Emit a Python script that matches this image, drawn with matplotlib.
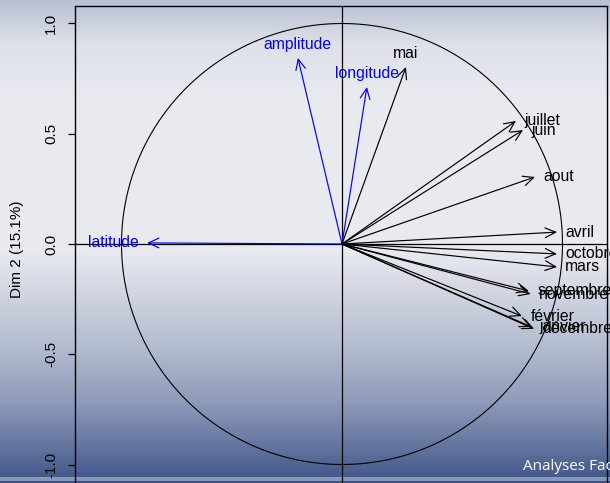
import numpy as np
import matplotlib
matplotlib.use("Agg")
import matplotlib.pyplot as plt
from matplotlib.colors import LinearSegmentedColormap

# ---- data ----
var_names = ["latitude", "amplitude", "longitude", "mai", "juillet", "juin", "aout",
             "avril", "octobre", "mars", "septembre", "novembre", "février",
             "janvier", "décembre"]
dim1 = [-0.884, -0.200, 0.113, 0.290, 0.789, 0.821, 0.875,
        0.975, 0.975, 0.975, 0.847, 0.856, 0.816, 0.859, 0.871]
dim2 = [0.005, 0.844, 0.712, 0.803, 0.558, 0.517, 0.304,
        0.054, -0.045, -0.104, -0.213, -0.227, -0.327, -0.376, -0.385]
supplementary = [True, True, True, False, False, False, False,
                 False, False, False, False, False, False, False, False]
y_ticks = [-1.0, -0.5, 0.0, 0.5, 1.0]
y_label = "Dim 2 (15.1%)"
footer = "Analyses Factorielles"

W, H = 610, 483
fig = plt.figure(figsize=(W / 100, H / 100), dpi=100)

# background gradient (slide)
bg = fig.add_axes([0, 0, 1, 1], zorder=-10)
stops = [(0.00, "#b8c0d1"), (0.09, "#dee1e9"), (0.20, "#e9eaf0"), (0.52, "#e9eaf0"),
         (0.60, "#d3d7e2"), (0.72, "#b3bbcf"), (0.83, "#8f9cba"), (0.92, "#6677a0"),
         (0.990, "#44598b"), (0.992, "#8a98b9"), (0.996, "#8a98b9"),
         (0.998, "#3e5284"), (1.0, "#3e5284")]
cmap = LinearSegmentedColormap.from_list("bg", stops)
grad = np.linspace(0, 1, 2000).reshape(-1, 1)
bg.imshow(grad, aspect="auto", cmap=cmap, extent=[0, 1, 0, 1], origin="upper",
          interpolation="nearest")
bg.set_axis_off()

# main axes positioned in pixels
x_left_px, x_right_px = 75, 607
scale = 220.5
cx, cy = 342, 244
xmin = (x_left_px - cx) / scale
xmax = (x_right_px - cx) / scale
top_px, bot_px = 6, 492
ymax = (cy - top_px) / scale
ymin = (cy - bot_px) / scale
ax = fig.add_axes([x_left_px / W, (H - bot_px) / H,
                   (x_right_px - x_left_px) / W, (bot_px - top_px) / H])
ax.patch.set_alpha(0)
ax.set_xlim(xmin, xmax)
ax.set_ylim(ymin, ymax)
for s in ax.spines.values():
    s.set_linewidth(1.0)
    s.set_color("black")

t = np.linspace(0, 2 * np.pi, 400)
ax.plot(np.cos(t), np.sin(t), color="black", lw=0.8)
ax.axhline(0, color="black", lw=0.9)
ax.axvline(0, color="black", lw=0.9)

for name, x, y, sup in zip(var_names, dim1, dim2, supplementary):
    col = "blue" if sup else "black"
    ax.annotate("", xy=(x, y), xytext=(0, 0),
                arrowprops=dict(arrowstyle="->,head_length=0.75,head_width=0.35",
                                mutation_scale=10, color=col, lw=0.85,
                                shrinkA=0, shrinkB=0))
    if abs(x) > abs(y):
        if x > 0:
            off, ha, va = (6, 0), "left", "center"
        else:
            off, ha, va = (-6, 0), "right", "center"
    else:
        if y > 0:
            off, ha, va = (0, 4), "center", "bottom"
        else:
            off, ha, va = (0, -4), "center", "top"
    ax.annotate(name, xy=(x, y), xytext=off, textcoords="offset points",
                ha=ha, va=va, color=col, fontsize=11.3, family="Liberation Sans",
                annotation_clip=False, clip_on=False)

ax.set_xticks([])
ax.set_yticks(y_ticks)
ax.set_yticklabels([f"{v:.1f}" for v in y_ticks], rotation=90, va="center",
                   fontsize=11, family="Liberation Sans")
ax.tick_params(axis="y", length=5, width=0.9, pad=7)
ax.set_ylabel(y_label, fontsize=11, family="Liberation Sans", labelpad=15)

fig.text(523 / W, 1 - 466 / H, footer, color="white", fontsize=11,
         family="Open Sans", ha="left", va="center")

fig.savefig("out.png", dpi=100)
